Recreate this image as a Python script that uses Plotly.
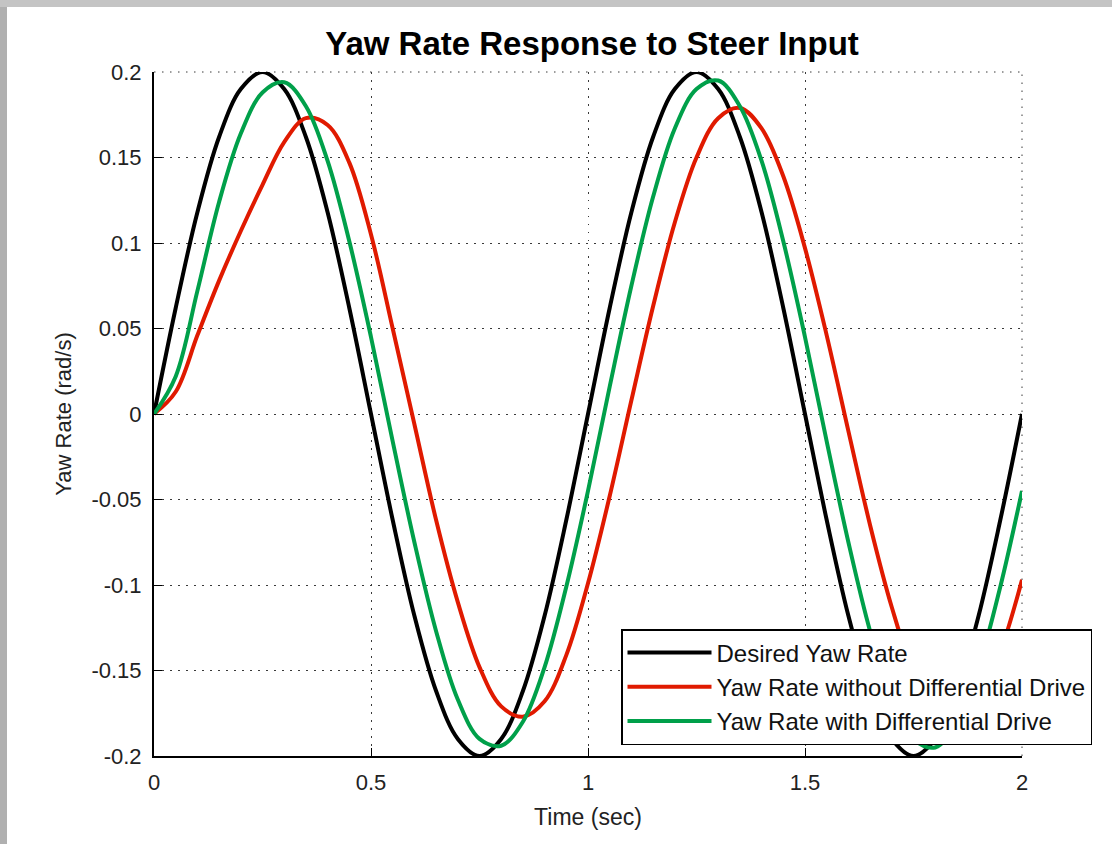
import plotly.graph_objects as go

# ---- data ----
time_s = [round(i * 0.05, 2) for i in range(41)]

desired = [0.000, 0.062, 0.118, 0.162, 0.190, 0.200, 0.190, 0.162, 0.118, 0.062,
           0.000, -0.062, -0.118, -0.162, -0.190, -0.200, -0.190, -0.162, -0.118, -0.062,
           0.000, 0.062, 0.118, 0.162, 0.190, 0.200, 0.190, 0.162, 0.118, 0.062,
           0.000, -0.062, -0.118, -0.162, -0.190, -0.200, -0.190, -0.162, -0.118, -0.062,
           0.000]

without_diff = [0.000, 0.013, 0.046, 0.078, 0.107, 0.134, 0.159, 0.173, 0.169, 0.147,
                0.105, 0.050, -0.006, -0.062, -0.110, -0.148, -0.171, -0.177, -0.168, -0.141,
                -0.099, -0.048, 0.008, 0.063, 0.112, 0.150, 0.173, 0.179, 0.167, 0.139,
                0.097, 0.046, -0.010, -0.065, -0.113, -0.151, -0.173, -0.179, -0.167, -0.139,
                -0.097]

with_diff = [0.000, 0.022, 0.072, 0.124, 0.164, 0.188, 0.194, 0.180, 0.148, 0.101,
             0.045, -0.016, -0.075, -0.127, -0.167, -0.190, -0.194, -0.180, -0.148, -0.101,
             -0.045, 0.016, 0.075, 0.127, 0.167, 0.190, 0.195, 0.180, 0.148, 0.101,
             0.045, -0.016, -0.075, -0.127, -0.167, -0.190, -0.195, -0.180, -0.148, -0.101,
             -0.045]

series_names = ["Desired Yaw Rate",
                "Yaw Rate without Differential Drive",
                "Yaw Rate with Differential Drive"]
series_colors = ["#000000", "#e01a00", "#00a04a"]

x_ticks = [0, 0.5, 1, 1.5, 2]
x_tick_text = ["0", "0.5", "1", "1.5", "2"]
y_ticks = [-0.2, -0.15, -0.1, -0.05, 0, 0.05, 0.1, 0.15, 0.2]
y_tick_text = ["-0.2", "-0.15", "-0.1", "-0.05", "0", "0.05", "0.1", "0.15", "0.2"]

FONT = "Liberation Sans, Arial, Helvetica, sans-serif"
GRID_COLOR = "#3a3a3a"
GRID_DASH = "1.5px,6.5px"

fig = go.Figure()
for name, ys, col in zip(series_names, [desired, without_diff, with_diff], series_colors):
    fig.add_trace(go.Scatter(x=time_s, y=ys, mode="lines", name=name,
                             line=dict(color=col, width=4, shape="spline", smoothing=1.0)))

L, R, T, B = 154, 90, 72, 88
W, H = 1112, 844
pw, ph = W - L - R, H - T - B

axis_common = dict(
    showline=True, linecolor="black", linewidth=2,
    ticks="inside", ticklen=8, tickcolor="black", tickwidth=1,
    showgrid=True, gridcolor=GRID_COLOR, gridwidth=1, griddash=GRID_DASH,
    zeroline=False, mirror=False,
    tickfont=dict(family=FONT, size=22, color="#222222"),
)

fig.update_layout(
    width=W, height=H,
    margin=dict(l=L, r=R, t=T, b=B, pad=0),
    paper_bgcolor="white", plot_bgcolor="white",
    title=dict(text="<b>Yaw Rate Response to Steer Input</b>",
               font=dict(family=FONT, size=33, color="black"),
               x=(322 + 862) / 2 / W, xanchor="center",
               y=1 - 43 / H, yanchor="middle", yref="container"),
    xaxis=dict(range=[0, 2], tickvals=x_ticks, ticktext=x_tick_text,
               title=dict(text="Time (sec)", font=dict(family=FONT, size=23, color="#222222"),
                          standoff=14),
               ticklabelstandoff=6, **axis_common),
    yaxis=dict(range=[-0.2, 0.2], tickvals=y_ticks, ticktext=y_tick_text,
               title=dict(text="Yaw Rate (rad/s)", font=dict(family=FONT, size=22, color="#222222"),
                          standoff=14),
               ticklabelstandoff=6, **axis_common),
    showlegend=True,
    legend=dict(x=(1092 - L) / pw, xanchor="right", y=(756 - 745) / ph, yanchor="bottom",
                bgcolor="white", bordercolor="black", borderwidth=1.5,
                font=dict(family=FONT, size=24, color="#111111"),
                tracegroupgap=0, itemwidth=84),
    shapes=[
        # dotted grid continues along the top and right edges (no box)
        dict(type="line", xref="paper", yref="paper", x0=0, x1=1, y0=1, y1=1,
             line=dict(color=GRID_COLOR, width=1, dash=GRID_DASH), layer="below"),
        dict(type="line", xref="paper", yref="paper", x0=1, x1=1, y0=0, y1=1,
             line=dict(color=GRID_COLOR, width=1, dash=GRID_DASH), layer="below"),
        # window frame
        dict(type="rect", xref="paper", yref="paper",
             x0=-L / pw, x1=(-L + 7) / pw, y0=-B / ph, y1=1 + T / ph,
             fillcolor="#b0b0b0", line=dict(width=0), layer="above"),
        dict(type="rect", xref="paper", yref="paper",
             x0=-L / pw, x1=1 + R / pw, y0=1 + (T - 7) / ph, y1=1 + T / ph,
             fillcolor="#c4c4c4", line=dict(width=0), layer="above"),
    ],
)

fig.write_html("out.html")
